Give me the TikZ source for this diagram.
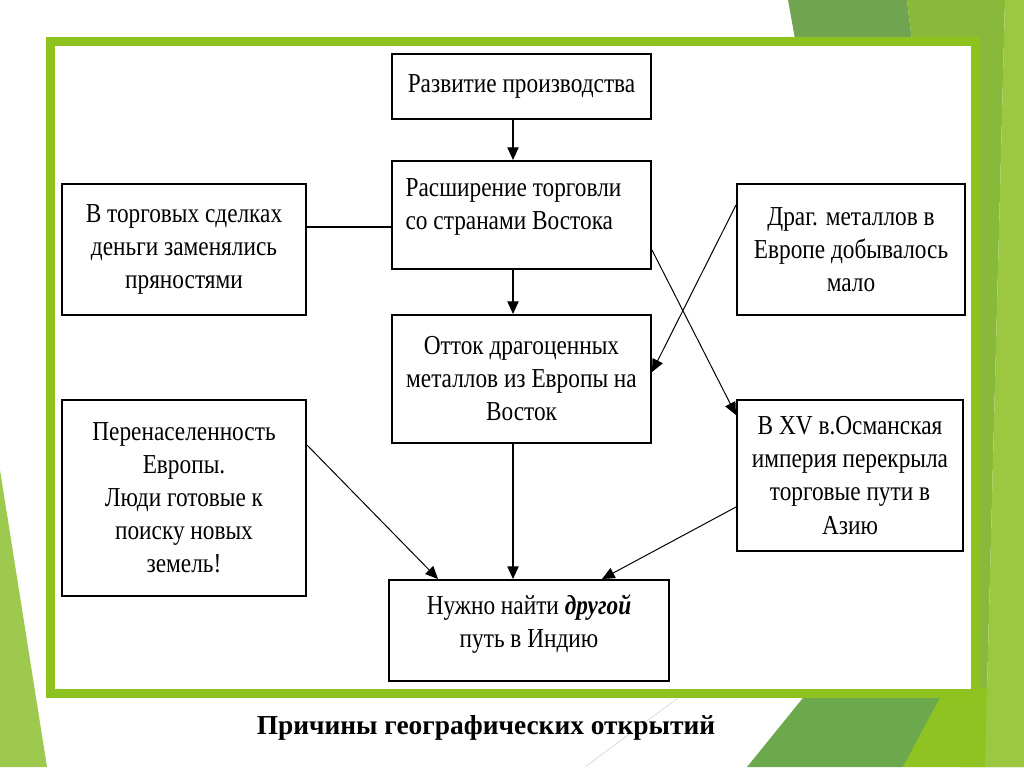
\documentclass[tikz,border=0pt]{standalone}
\usepackage{fontspec}
\setmainfont{Liberation Serif}
\newfontfamily\boxfont[FakeStretch=0.85]{Liberation Serif}
\usepackage{xcolor}
\usetikzlibrary{arrows.meta}
\definecolor{framegreen}{HTML}{8DC21F}
\definecolor{mutedgreen}{HTML}{71A450}
\definecolor{midgreen}{HTML}{88B93A}
\definecolor{lightgreen}{HTML}{9BC840}
\definecolor{paleleft}{HTML}{9DC94F}

\begin{document}
\begin{tikzpicture}[x=0.25mm, y=-0.25mm,
    box/.style={rectangle, draw=black, line width=1.4pt, fill=white, align=center, inner sep=0pt, font=\boxfont\fontsize{19.5}{23.5}\selectfont},
    arr/.style={-{Triangle[length=9pt, width=8pt]}, line width=0.9pt},
    darr/.style={-{Triangle[length=9pt, width=8pt]}, line width=0.7pt},
  ]

    % Slide background
    \fill[white] (0,0) rectangle (1024,767);
    \useasboundingbox (0,0) rectangle (1024,767);

    % Green facets round the slide
    \fill[paleleft] (0,470) -- (47,767) -- (0,767) -- cycle;
    \fill[mutedgreen] (788,0) -- (907,0) -- (913,50) -- (797,50) -- cycle;
    \fill[midgreen] (907,0) -- (1005,0) -- (985,767) -- (960,767) -- (960,50) -- (913,50) -- cycle;
    \fill[mutedgreen!95!green] (747,767) -- (811,688) -- (950,688) -- (903,767) -- cycle;
    \fill[framegreen!90!lightgreen] (903,767) -- (945,688) -- (1024,688) -- (1024,767) -- cycle;
    \fill[lightgreen] (1005,0) -- (1024,0) -- (1024,767) -- (985,767) -- cycle;
    \draw[gray!35, line width=0.4pt] (678,698) -- (585,767);

    % Frame
    \draw[framegreen, line width=9*0.25mm, fill=white] (50.5,42) rectangle (975.5,693.5);

    % Centre column
    \node[box, minimum width=64.75mm, minimum height=16.25mm] (b1) at (521.5,86.5) {Развитие производства};
    \node[box, minimum width=64.75mm, minimum height=27mm, align=left] (b2) at (521.5,215) {Расширение торговли\rule{4mm}{0pt}\\со странами Востока\rule[-5.5mm]{0pt}{1pt}};
    \node[box, minimum width=64.75mm, minimum height=32mm] (b3) at (521.5,379) {Отток драгоценных\\металлов из Европы на\\Восток};

    % Side boxes
    \node[box, minimum width=61mm, minimum height=32.75mm] (b4) at (184,249.5) {В торговых сделках\\деньги заменялись\\пряностями};
    \node[box, minimum width=57mm, minimum height=32.75mm] (b5) at (851,249.5) {Драг. металлов в\\Европе добывалось\\мало};
    \node[box, minimum width=61mm, minimum height=49mm] (b6) at (184,498) {Перенаселенность\\Европы.\\Люди готовые к\\поиску новых\\земель!};
    \node[box, minimum width=56.5mm, minimum height=37.75mm] (b7) at (850,475.5) {В XV в.Османская\\империя перекрыла\\торговые пути в\\Азию};

    % Result
    \node[box, minimum width=70mm, minimum height=25.25mm] (b8) at (529,630.5) {Нужно найти {\bfseries\itshape другой}\\путь в Индию\rule[-4.5mm]{0pt}{1pt}};

    % Caption
    \node[font=\bfseries\fontsize{19.5}{23}\selectfont] (cap) at (486,728) {Причины географических открытий};

    % Arrows
    \coordinate (cx) at (513,0);
    \draw[arr] (b1.south -| cx) -- (b2.north -| cx);
    \draw[arr] (b2.south -| cx) -- (b3.north -| cx);
    \draw[arr] (b3.south -| cx) -- (b8.north -| cx);
    \draw[line width=0.9pt] (b4.east |- 0,227) -- (b2.west |- 0,227);
    \draw[darr] (b2.east |- 0,250) -- (b7.west |- 0,415);
    \draw[darr] (b5.west |- 0,205) -- (b3.east |- 0,372);
    \draw[darr] (b6.east |- 0,445) -- (b8.north -| 438,0);
    \draw[darr] (b7.west |- 0,507) -- (b8.north -| 602,0);

  \end{tikzpicture}
\end{document}
